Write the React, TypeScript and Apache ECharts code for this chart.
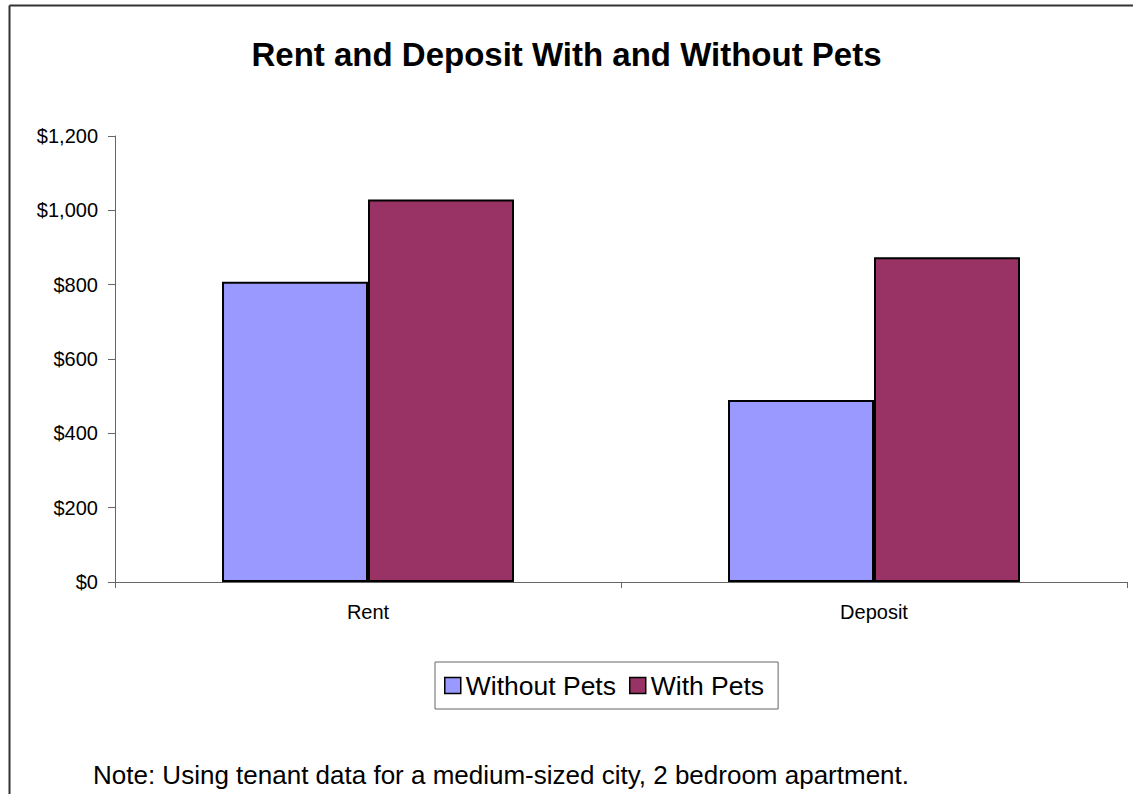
import React, { useEffect, useRef } from "react";
import * as echarts from "echarts";

const categories = ["Rent", "Deposit"];
const withoutPets = [808, 490];
const withPets = [1029, 874];
const seriesNames = ["Without Pets", "With Pets"];
const titleText = "Rent and Deposit With and Without Pets";
const noteText = "Note: Using tenant data for a medium-sized city, 2 bedroom apartment.";

const FONT = "'Liberation Sans', Arial, Helvetica, sans-serif";

export default function App() {
  const ref = useRef<HTMLDivElement>(null);
  useEffect(() => {
    if (!ref.current) return;
    const chart = echarts.init(ref.current, null, { renderer: "svg" });
    chart.setOption({
      animation: false,
      backgroundColor: "#ffffff",
      textStyle: { fontFamily: FONT },
      title: {
        text: titleText,
        left: "center",
        top: 33,
        textStyle: { fontFamily: FONT, fontSize: 33, fontWeight: "bold", color: "#000" },
      },
      legend: {
        left: 435,
        top: 662,
        data: seriesNames,
        itemWidth: 16,
        itemHeight: 16,
        itemGap: 13,
        padding: [10, 14, 10, 9],
        borderColor: "#666",
        borderWidth: 1,
        icon: "rect",
        itemStyle: { borderColor: "#000", borderWidth: 1.5 },
        textStyle: { fontFamily: FONT, fontSize: 26.5, color: "#000" },
      },
      grid: { left: 115, right: 6, top: 136, bottom: 212, containLabel: false },
      xAxis: {
        type: "category",
        data: categories,
        axisLine: { lineStyle: { color: "#666", width: 1 } },
        axisTick: { show: true, alignWithLabel: false, length: 6, lineStyle: { color: "#666" } },
        axisLabel: { fontFamily: FONT, fontSize: 20, color: "#000", margin: 20 },
        splitLine: { show: false },
      },
      yAxis: {
        type: "value",
        min: 0,
        max: 1200,
        interval: 200,
        axisLine: { show: true, lineStyle: { color: "#666", width: 1 } },
        axisTick: { show: true, length: 7, lineStyle: { color: "#666" } },
        axisLabel: {
          fontFamily: FONT,
          fontSize: 20,
          color: "#000",
          margin: 17,
          formatter: (v: number) => "$" + v.toLocaleString("en-US"),
        },
        splitLine: { show: false },
      },
      series: [
        {
          name: seriesNames[0],
          type: "bar",
          data: withoutPets,
          barGap: "0%",
          barCategoryGap: "42.3%",
          itemStyle: { color: "#9999FF", borderColor: "#000", borderWidth: 2 },
        },
        {
          name: seriesNames[1],
          type: "bar",
          data: withPets,
          barGap: "0%",
          barCategoryGap: "42.3%",
          itemStyle: { color: "#993366", borderColor: "#000", borderWidth: 2 },
        },
      ],
      graphic: [
        {
          type: "line",
          shape: { x1: 9.5, y1: 5.5, x2: 1133, y2: 5.5 },
          style: { stroke: "#333", lineWidth: 2 },
          silent: true,
        },
        {
          type: "line",
          shape: { x1: 9.5, y1: 5.5, x2: 9.5, y2: 794 },
          style: { stroke: "#333", lineWidth: 2 },
          silent: true,
        },
        {
          type: "text",
          left: 93,
          top: 762,
          style: { text: noteText, fontFamily: FONT, fontSize: 26, fill: "#000" },
        },
      ],
    });
    return () => chart.dispose();
  }, []);
  return (
    <div
      ref={ref}
      style={{ position: "absolute", left: 0, top: 0, width: 1133, height: 794, overflow: "hidden" }}
    />
  );
}
